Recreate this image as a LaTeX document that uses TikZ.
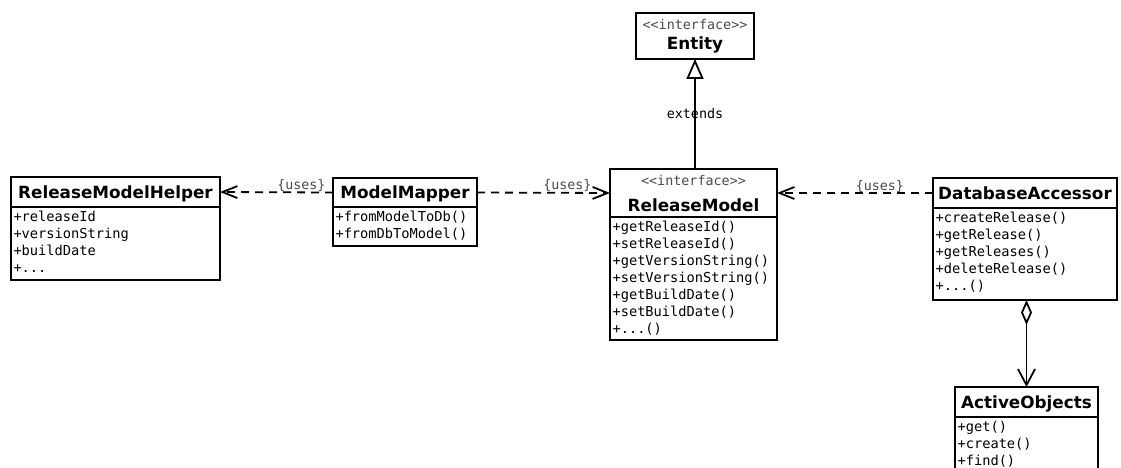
\documentclass[tikz,border=0pt]{standalone}
\usepackage{fontspec}
\setmainfont{DejaVu Sans}
\setmonofont{DejaVu Sans Mono}
\usetikzlibrary{arrows.meta}
\definecolor{labelgray}{HTML}{4A4A4A}

% text styles of the class boxes
\newcommand\memfont{\fontsize{13.7}{17}\selectfont\ttfamily}
\newcommand\clsfont{\fontsize{16.8}{20}\selectfont\bfseries}
% member compartment: width, height, lines
\newcommand\members[3]{\parbox[c][#2][t]{#1}{\memfont\raggedright\leftskip=2.5pt\rule{0pt}{14.5pt}#3}}
% interface header: width, height, first baseline, extra gap, name
\newcommand\iface[5]{\parbox[c][#2][t]{#1}{\fontsize{13.4}{20}\selectfont\centering\rule{0pt}{#3}{\ttfamily\color{labelgray}<<interface>>}\\[#4]{\clsfont #5}}}

\tikzset{
  box/.style={draw, line width=2pt, inner sep=0pt, outer sep=0pt},
  head/.style={box, anchor=north west, font=\clsfont, text height=12.2pt, text depth=0pt},
  body/.style={box, anchor=north},
  dep/.style={line width=1.8pt, dash pattern=on 8pt off 6pt,
              -{Straight Barb[length=15pt, width=12pt]}},
  uses/.style={anchor=base, yshift=3pt, inner sep=0pt, text=labelgray,
               font=\fontsize{13.3}{15}\selectfont\ttfamily},
  ext/.style={line width=1.8pt, -{Triangle[open, length=20pt, width=17pt]}},
  agg/.style={line width=1.8pt,
              {Diamond[open, length=25pt, width=11pt]}-{Straight Barb[length=16pt, width=17pt]}},
}

\begin{document}
\begin{tikzpicture}[x=1pt, y=-1pt]
\useasboundingbox (0,0) rectangle (1121,468);
\fill[white] (0,0) rectangle (1121,468);
\clip (0,0) rectangle (1121,468);

% ReleaseModelHelper
\node[head, minimum width=209pt, minimum height=30pt] (rmhh) at (11,177) {ReleaseModelHelper};
\node[body] (rmhb) at (rmhh.south) {\members{209pt}{73pt}{+releaseId\\+versionString\\+buildDate\\+...}};

% ModelMapper
\node[head, minimum width=144pt, minimum height=29pt] (mmh) at (333,178) {ModelMapper};
\node[body] (mmb) at (mmh.south) {\members{144pt}{39pt}{+fromModelToDb()\\+fromDbToModel()}};

% Entity interface
\node[box, anchor=north west] (enth) at (636,13) {\iface{118pt}{46pt}{16.3pt}{0.7pt}{Entity}};

% ReleaseModel interface
\node[box, anchor=north west] (rmh) at (610,169) {\iface{167pt}{48pt}{16.7pt}{6pt}{ReleaseModel}};
\node[body] (rmb) at (rmh.south) {\members{167pt}{123pt}{+getReleaseId()\\+setReleaseId()\\+getVersionString()\\+setVersionString()\\+getBuildDate()\\+setBuildDate()\\+...()}};

% DatabaseAccessor
\node[head, minimum width=184pt, minimum height=30pt] (dah) at (933,178) {DatabaseAccessor};
\node[body] (dab) at (dah.south) {\members{184pt}{92pt}{+createRelease()\\+getRelease()\\+getReleases()\\+deleteRelease()\\+...()}};

% ActiveObjects
\node[head, minimum width=143pt, minimum height=30pt] (aoh) at (955,387) {ActiveObjects};
\node[body] (aob) at (aoh.south) {\members{143pt}{62pt}{+get()\\+create()\\+find()}};

% relations
\draw[dep] (mmh.west) -- node[uses, pos=0.28] {\{uses\}} (rmhh.east);
\draw[dep] (mmh.east) -- node[uses, pos=0.68] {\{uses\}} (rmh.west);
\draw[dep] (dah.west) -- node[uses, pos=0.34] {\{uses\}} (rmh.east);
\draw[ext] (enth.south |- rmh.north) -- node[font=\fontsize{13.4}{15}\selectfont\ttfamily, inner sep=0pt] {extends} (enth.south);
\draw[agg] (aoh.north |- dab.south) -- (aoh.north);
\end{tikzpicture}
\end{document}
